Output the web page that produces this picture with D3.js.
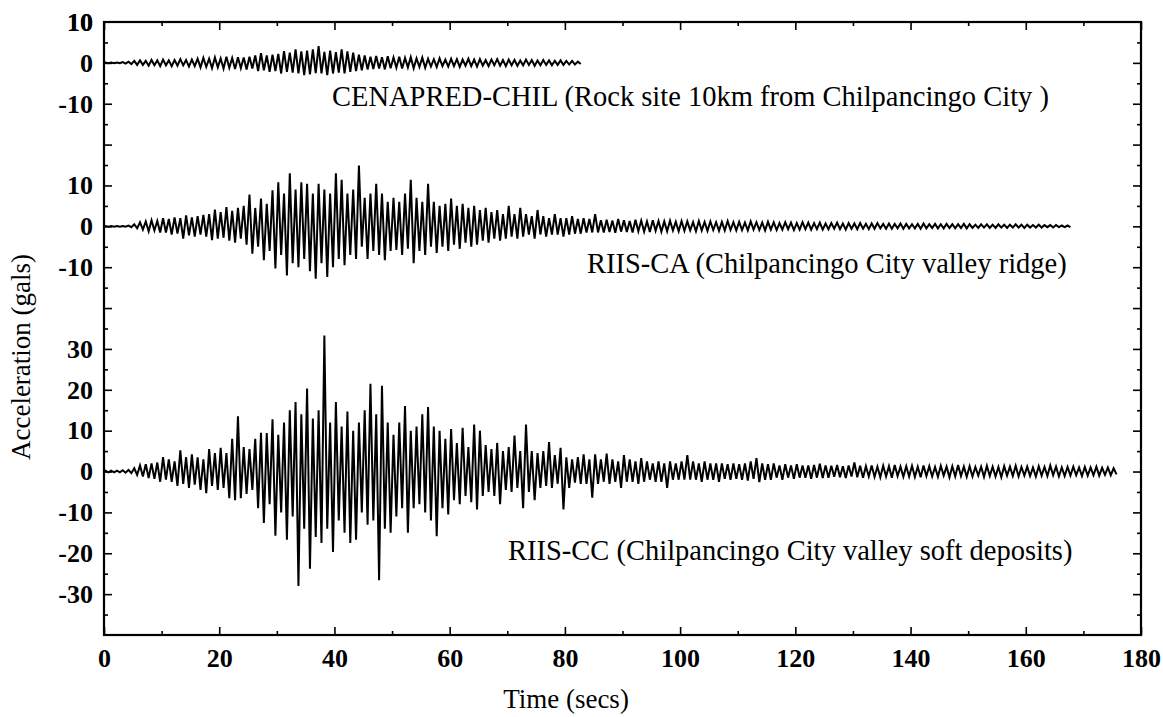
<html>
<head>
<meta charset="utf-8">
<script src="https://cdn.jsdelivr.net/npm/d3@7"></script>
<style>
  body { margin: 0; background: #fff; }
  text { font-family: "Liberation Serif", "Times New Roman", serif; fill: #000; }
</style>
</head>
<body>
<div id="chart"></div>
<script>
// peak (hi) and trough (lo) read per second off each record, gals
var hiCHIL = [
  0.1,0.1,0.1,0.2,0.3,0.5,0.6,0.5,0.7,0.6,
  0.8,0.6,0.7,0.9,0.7,0.8,1.0,1.2,1.0,1.3,
  1.1,1.5,1.2,1.4,1.3,1.5,1.8,2.4,1.8,2.0,
  2.2,2.9,2.5,3.3,2.8,3.0,3.3,4.1,2.7,3.0,
  2.6,3.3,2.8,2.5,2.0,1.8,1.5,1.7,1.4,1.6,
  1.3,1.5,1.2,1.4,1.1,1.3,1.0,0.9,1.1,0.8,
  1.0,0.9,0.8,1.0,0.8,0.9,0.7,0.8,0.9,0.7,
  0.8,0.7,0.6,0.8,0.7,0.6,0.7,0.6,0.5,0.6,
  0.5,0.5,0.3
];
var loCHIL = [
  -0.1,-0.1,-0.1,-0.2,-0.3,-0.5,-0.5,-0.7,-0.6,-0.8,
  -0.6,-0.8,-0.7,-0.6,-0.9,-0.8,-1.1,-1.0,-1.3,-1.1,
  -1.4,-1.2,-1.5,-1.3,-1.6,-1.4,-2.0,-1.8,-2.2,-2.0,
  -2.6,-2.2,-2.4,-2.6,-3.0,-2.8,-2.5,-2.6,-3.0,-2.6,
  -2.4,-2.6,-2.2,-2.0,-1.8,-1.6,-1.5,-1.4,-1.6,-1.3,
  -1.2,-1.4,-1.1,-1.3,-1.0,-1.2,-0.9,-1.0,-0.8,-0.9,
  -0.8,-1.0,-0.7,-0.8,-0.9,-0.7,-0.8,-0.6,-0.7,-0.8,
  -0.6,-0.7,-0.6,-0.5,-0.7,-0.6,-0.5,-0.6,-0.5,-0.5,
  -0.4,-0.4,-0.3
];

var hiCA = [
  0.1,0.1,0.1,0.1,0.2,0.5,1.0,1.2,1.5,1.3,
  2.0,1.8,2.2,2.0,2.7,2.2,2.5,2.8,3.0,4.1,
  3.5,4.7,3.8,4.5,5.0,7.8,4.5,6.8,5.5,8.8,
  10.8,8.0,13.0,9.0,10.8,10.4,8.0,10.4,9.0,8.0,
  13.0,11.4,8.0,9.0,14.9,7.0,8.0,10.4,8.0,6.0,
  7.0,6.0,8.0,11.4,7.0,6.0,10.4,6.0,5.0,5.5,
  6.8,5.0,5.5,4.5,5.0,4.0,4.5,3.5,4.0,3.0,
  5.0,3.0,4.5,3.0,2.5,4.0,2.5,2.0,3.0,2.0,
  2.0,2.5,1.8,2.0,1.8,3.0,1.5,1.6,1.4,1.8,
  1.5,1.3,1.6,1.4,1.2,1.5,1.3,1.2,1.4,1.1,
  1.3,1.2,1.0,1.3,1.1,1.2,1.0,1.1,1.3,1.0,
  1.1,0.9,1.2,1.0,0.9,1.1,1.0,0.8,1.0,0.9,
  0.8,1.0,0.9,0.8,0.9,0.7,0.8,0.9,0.7,0.8,
  0.7,0.8,0.6,0.7,0.8,0.6,0.7,0.6,0.7,0.6,
  0.5,0.6,0.7,0.5,0.6,0.5,0.6,0.5,0.5,0.6,
  0.5,0.4,0.5,0.5,0.4,0.5,0.4,0.4,0.5,0.4,
  0.4,0.3,0.4,0.3,0.3,0.3,0.2,0.2
];
var loCA = [
  -0.1,-0.1,-0.1,-0.1,-0.2,-0.5,-0.8,-1.2,-1.0,-1.5,
  -1.5,-2.0,-1.8,-3.0,-2.2,-2.5,-2.0,-2.5,-3.4,-3.0,
  -2.8,-3.5,-4.0,-3.0,-4.5,-6.7,-5.0,-8.3,-6.0,-10.3,
  -7.0,-12.0,-9.0,-10.0,-8.0,-11.0,-12.8,-9.0,-12.4,-10.0,
  -8.0,-9.5,-7.0,-8.0,-5.0,-8.0,-6.0,-7.0,-8.3,-6.0,
  -5.8,-7.0,-5.5,-9.0,-6.0,-7.0,-5.0,-6.5,-5.0,-6.0,
  -4.5,-5.5,-4.0,-5.0,-4.5,-3.5,-4.0,-3.0,-3.5,-3.0,
  -2.5,-3.0,-2.5,-2.0,-3.0,-2.0,-2.5,-2.0,-2.0,-2.5,
  -2.0,-1.8,-1.8,-1.5,-1.5,-1.5,-1.5,-1.4,-1.6,-1.3,
  -1.4,-1.5,-1.2,-1.3,-1.4,-1.1,-1.3,-1.2,-1.0,-1.2,
  -1.1,-1.0,-1.2,-1.0,-1.1,-0.9,-1.1,-1.0,-0.9,-1.0,
  -0.9,-1.0,-0.8,-0.9,-1.0,-0.8,-0.9,-0.8,-0.7,-0.9,
  -0.8,-0.7,-0.8,-0.7,-0.8,-0.7,-0.6,-0.7,-0.8,-0.6,
  -0.7,-0.6,-0.7,-0.6,-0.5,-0.6,-0.6,-0.5,-0.6,-0.5,
  -0.5,-0.6,-0.5,-0.4,-0.5,-0.5,-0.4,-0.5,-0.4,-0.5,
  -0.4,-0.4,-0.3,-0.4,-0.4,-0.3,-0.4,-0.3,-0.3,-0.4,
  -0.3,-0.3,-0.3,-0.2,-0.3,-0.2,-0.2,-0.2
];

var hiCC = [
  0.2,0.2,0.2,0.3,0.4,0.8,1.5,1.8,2.0,2.2,
  3.5,3.0,2.5,5.2,3.5,4.2,3.5,3.0,5.5,4.5,
  5.8,4.5,8.0,13.5,6.0,5.5,8.0,9.5,9.4,12.8,
  9.0,12.0,15.0,17.0,14.0,20.3,13.0,15.0,33.3,12.0,
  17.0,11.0,14.7,10.0,12.0,15.0,21.5,14.0,21.0,12.0,
  9.0,12.0,16.0,10.0,11.0,14.0,15.8,11.0,10.0,8.0,
  10.4,7.0,10.7,6.0,11.5,10.0,6.5,5.5,7.0,5.0,
  6.0,8.8,5.0,11.5,5.0,4.5,5.0,7.2,4.0,5.8,
  3.5,3.0,3.5,4.2,3.0,4.2,3.0,4.4,3.0,2.5,
  4.0,3.0,2.5,3.3,2.5,2.0,2.5,2.0,2.5,2.0,
  2.5,4.0,2.5,2.0,2.5,2.0,2.0,2.0,1.8,2.0,
  1.8,2.0,2.5,3.3,2.0,1.8,2.0,1.5,1.8,1.5,
  1.8,1.5,1.5,1.6,1.9,1.5,1.4,1.6,1.3,1.5,
  2.2,1.4,1.3,1.5,1.2,1.4,1.3,1.6,1.2,1.3,
  1.4,1.2,1.5,1.3,1.1,1.4,1.2,1.3,1.6,1.2,
  1.3,1.1,1.2,1.4,1.2,1.1,1.3,1.2,1.4,1.1,
  1.2,1.0,1.3,1.1,1.5,1.2,1.0,1.1,1.2,1.0,
  1.1,1.0,1.2,0.9,1.0,0.8
];
var loCC = [
  -0.2,-0.2,-0.2,-0.3,-0.4,-0.8,-1.2,-1.6,-1.8,-2.5,
  -2.0,-2.5,-3.5,-3.0,-4.0,-3.2,-4.5,-5.3,-3.5,-4.5,
  -4.0,-6.5,-7.0,-6.5,-5.5,-4.5,-9.0,-12.6,-8.0,-15.7,
  -10.0,-16.7,-11.0,-28.0,-14.0,-23.8,-16.0,-17.5,-14.0,-19.7,
  -12.0,-15.0,-17.5,-16.7,-10.0,-13.0,-12.0,-26.6,-14.0,-15.0,
  -11.0,-9.0,-15.0,-9.0,-8.0,-10.0,-12.0,-15.8,-9.0,-10.5,
  -7.0,-8.0,-6.0,-7.5,-9.3,-6.0,-5.0,-6.0,-8.0,-4.5,
  -5.0,-4.0,-9.0,-5.0,-7.0,-4.0,-3.5,-4.0,-3.0,-9.3,
  -4.0,-2.7,-3.0,-3.0,-6.4,-3.0,-2.5,-3.0,-2.5,-4.0,
  -2.5,-2.5,-3.0,-2.5,-2.0,-2.5,-2.5,-4.0,-2.0,-2.0,
  -2.0,-2.0,-2.0,-2.5,-2.0,-2.0,-2.5,-1.8,-2.0,-1.8,
  -2.0,-2.2,-1.8,-2.6,-2.0,-2.0,-1.5,-2.0,-1.5,-1.8,
  -1.5,-1.5,-1.8,-1.5,-1.6,-1.5,-1.3,-1.4,-1.6,-1.2,
  -1.4,-1.5,-1.2,-1.3,-1.4,-1.2,-1.5,-1.1,-1.3,-1.2,
  -1.3,-1.4,-1.1,-1.2,-1.3,-1.0,-1.4,-1.2,-1.1,-1.3,
  -1.2,-1.0,-1.3,-1.1,-1.2,-1.4,-1.0,-1.1,-1.2,-1.0,
  -1.1,-1.2,-1.0,-1.1,-0.9,-1.2,-1.1,-1.0,-0.9,-1.1,
  -1.0,-0.9,-1.0,-0.8,-0.9,-0.7
];

var stationNames = [
  "CENAPRED-CHIL (Rock site 10km from Chilpancingo City )",
  "RIIS-CA (Chilpancingo City valley ridge)",
  "RIIS-CC (Chilpancingo City valley soft deposits)"
];
var baseLines = [140, 100, 40];          // where each record's zero sits on the stacked axis
var yLabelTicks = [[10, 0, -10], [10, 0, -10], [30, 20, 10, 0, -10, -20, -30]];
var xMajor = [0, 20, 40, 60, 80, 100, 120, 140, 160, 180];

var width = 1163, height = 717;
var plot = { left: 104, right: 1141, top: 22, bottom: 635 };

var svg = d3.select("#chart").append("svg")
    .attr("width", width)
    .attr("height", height);

var x = d3.scaleLinear().domain([0, 180]).range([plot.left, plot.right]);
var y = d3.scaleLinear().domain([0, 150]).range([plot.bottom, plot.top]);

var records = [
  { hi: hiCHIL, lo: loCHIL },
  { hi: hiCA, lo: loCA },
  { hi: hiCC, lo: loCC }
];

// peak then trough inside each second
var line = d3.line()
    .x(function (d) { return x(d[0]); })
    .y(function (d) { return y(d[1]); });

records.forEach(function (r, k) {
  var pts = [[0, baseLines[k]]];
  r.hi.forEach(function (v, i) {
    pts.push([i + 0.25, baseLines[k] + v]);
    pts.push([i + 0.75, baseLines[k] + r.lo[i]]);
  });
  svg.append("path")
      .datum(pts)
      .attr("fill", "none")
      .attr("stroke", "#000")
      .attr("stroke-width", 2)
      .attr("stroke-linejoin", "miter")
      .attr("d", line);
});

// axes: major + minor ticks pointing inwards on all four sides
var xMinor = d3.range(10, 180, 20);
var yAll = d3.range(5, 150, 5);
var yMajorAll = yAll.filter(function (v) { return v % 10 === 0; });
var yMinorAll = yAll.filter(function (v) { return v % 10 !== 0; });

var labelMap = {};
yLabelTicks.forEach(function (list, k) {
  list.forEach(function (v) { labelMap[baseLines[k] + v] = v; });
});
var yLabelled = Object.keys(labelMap).map(Number);

function styleAxis(g) {
  g.select(".domain").remove();
  g.selectAll(".tick line").attr("stroke", "#000").attr("stroke-width", 1.6);
  g.selectAll(".tick text")
      .style("font-family", "'Liberation Serif', 'Times New Roman', serif")
      .style("font-size", "26px")
      .style("font-weight", "bold")
      .attr("fill", "#000");
}

svg.append("g")
    .attr("transform", "translate(0," + plot.bottom + ")")
    .call(d3.axisBottom(x).tickValues(xMajor).tickSizeInner(-8).tickSizeOuter(0).tickPadding(14))
    .call(styleAxis);
svg.append("g")
    .attr("transform", "translate(0," + plot.bottom + ")")
    .call(d3.axisBottom(x).tickValues(xMinor).tickSizeInner(-4).tickSizeOuter(0).tickFormat(""))
    .call(styleAxis);
svg.append("g")
    .attr("transform", "translate(0," + plot.top + ")")
    .call(d3.axisTop(x).tickValues(xMajor).tickSizeInner(-8).tickSizeOuter(0).tickFormat(""))
    .call(styleAxis);
svg.append("g")
    .attr("transform", "translate(0," + plot.top + ")")
    .call(d3.axisTop(x).tickValues(xMinor).tickSizeInner(-4).tickSizeOuter(0).tickFormat(""))
    .call(styleAxis);

svg.append("g")
    .attr("transform", "translate(" + plot.left + ",0)")
    .call(d3.axisLeft(y).tickValues(yMajorAll).tickSizeInner(-8).tickSizeOuter(0).tickFormat(""))
    .call(styleAxis);
svg.append("g")
    .attr("transform", "translate(" + plot.left + ",0)")
    .call(d3.axisLeft(y).tickValues(yMinorAll).tickSizeInner(-4).tickSizeOuter(0).tickFormat(""))
    .call(styleAxis);
svg.append("g")
    .attr("transform", "translate(" + plot.left + ",0)")
    .call(d3.axisLeft(y).tickValues(yLabelled.concat([150])).tickSize(0).tickPadding(11)
      .tickFormat(function (v) { return v === 150 ? "10" : String(labelMap[v]); }))
    .call(styleAxis);
svg.append("g")
    .attr("transform", "translate(" + plot.right + ",0)")
    .call(d3.axisRight(y).tickValues(yMajorAll).tickSizeInner(-8).tickSizeOuter(0).tickFormat(""))
    .call(styleAxis);
svg.append("g")
    .attr("transform", "translate(" + plot.right + ",0)")
    .call(d3.axisRight(y).tickValues(yMinorAll).tickSizeInner(-4).tickSizeOuter(0).tickFormat(""))
    .call(styleAxis);

// frame
svg.append("rect")
    .attr("x", plot.left)
    .attr("y", plot.top)
    .attr("width", plot.right - plot.left)
    .attr("height", plot.bottom - plot.top)
    .attr("fill", "none")
    .attr("stroke", "#000")
    .attr("stroke-width", 2.2);

// station captions
var captionPos = [[332, 106], [587, 273], [508, 560]];
stationNames.forEach(function (s, k) {
  svg.append("text")
      .attr("x", captionPos[k][0])
      .attr("y", captionPos[k][1])
      .style("font-size", "28.5px")
      .text(s);
});

svg.append("text")
    .attr("x", 566)
    .attr("y", 708)
    .attr("text-anchor", "middle")
    .style("font-size", "27px")
    .text("Time (secs)");

svg.append("text")
    .attr("transform", "translate(30,357) rotate(-90)")
    .attr("text-anchor", "middle")
    .style("font-size", "27px")
    .text("Acceleration (gals)");
</script>
</body>
</html>
